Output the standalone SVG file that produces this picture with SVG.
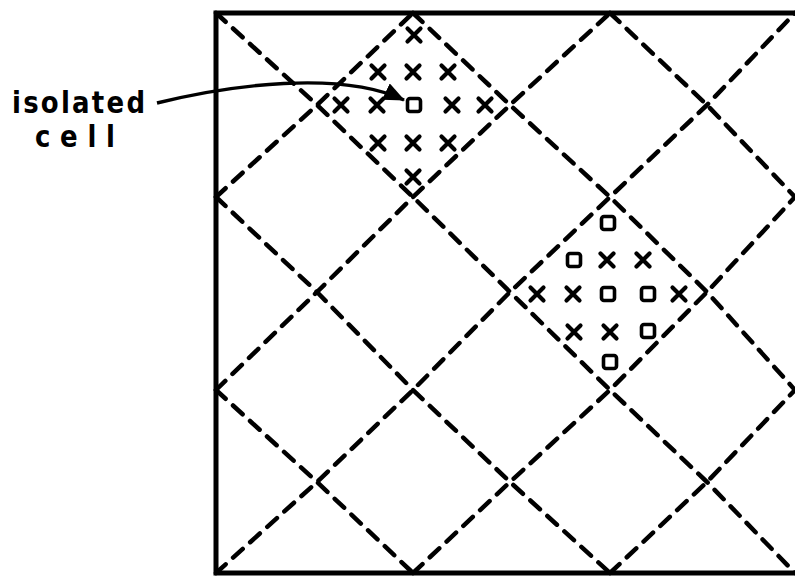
<svg xmlns="http://www.w3.org/2000/svg" xmlns:xlink="http://www.w3.org/1999/xlink" width="795" height="577" viewBox="0 0 795 577">
<style>
.grid{fill:none;stroke:#000;stroke-width:4.5;stroke-dasharray:13 10;stroke-linecap:round;stroke-linejoin:round}
.border{fill:none;stroke:#000;stroke-width:5;stroke-linecap:square}
.x{fill:none;stroke:#000;stroke-width:4.2;stroke-linecap:round}
.sq{fill:none;stroke:#000;stroke-width:3.6}
.lbl{font-family:"DejaVu Sans",sans-serif;font-weight:bold;font-size:26px;fill:#000}
.arrow{fill:none;stroke:#000;stroke-width:3.4}
</style>
<defs>
<path id="xm" class="x" d="M-6.5,-6.5L6.5,6.5M6.5,-6.5L-6.5,6.5"/>
<rect id="sm" class="sq" x="-6.5" y="-6.5" width="13" height="13" rx="2.5"/>
<marker id="ah" markerUnits="userSpaceOnUse" markerWidth="24" markerHeight="20" refX="20" refY="9" orient="auto">
<path d="M0,0L21,9L0,18Z" fill="#000"/>
</marker>
</defs>
<g id="frame">
<path class="border" d="M795,13H216V573H795"/>
</g>
<g id="connectors">
<path class="grid" d="M216,390L317,482L413,573"/>
<path class="grid" d="M216,197L317,292L413,390L510,482L610,573"/>
<path class="grid" d="M216,13L317,105L413,197L510,292L610,390L707,482L795,573"/>
<path class="grid" d="M413,13L510,105L610,197L707,292L795,390"/>
<path class="grid" d="M610,13L707,105L795,197"/>
<path class="grid" d="M216,197L317,105L413,13"/>
<path class="grid" d="M216,390L317,292L413,197L510,105L610,13"/>
<path class="grid" d="M216,573L317,482L413,390L510,292L610,197L707,105L795,13"/>
<path class="grid" d="M413,573L510,482L610,390L707,292L795,197"/>
<path class="grid" d="M610,573L707,482L795,390"/>
<path class="arrow" d="M157,103C230,85 340,70 404,100" marker-end="url(#ah)"/>
</g>
<g id="cluster1">
<use xlink:href="#xm" x="414" y="35"/>
<use xlink:href="#xm" x="378" y="72"/>
<use xlink:href="#xm" x="413" y="72"/>
<use xlink:href="#xm" x="448" y="72"/>
<use xlink:href="#xm" x="341" y="105"/>
<use xlink:href="#xm" x="377" y="105"/>
<use xlink:href="#sm" x="414" y="105"/>
<use xlink:href="#xm" x="452" y="105"/>
<use xlink:href="#xm" x="485" y="105"/>
<use xlink:href="#xm" x="378" y="143"/>
<use xlink:href="#xm" x="413" y="143"/>
<use xlink:href="#xm" x="448" y="143"/>
<use xlink:href="#xm" x="413" y="177"/>
</g>
<g id="cluster2">
<use xlink:href="#sm" x="608" y="223"/>
<use xlink:href="#sm" x="574" y="260"/>
<use xlink:href="#xm" x="607" y="260"/>
<use xlink:href="#xm" x="643" y="260"/>
<use xlink:href="#xm" x="537" y="294"/>
<use xlink:href="#xm" x="573" y="294"/>
<use xlink:href="#sm" x="608" y="294"/>
<use xlink:href="#sm" x="648" y="294"/>
<use xlink:href="#xm" x="679" y="294"/>
<use xlink:href="#xm" x="574" y="332"/>
<use xlink:href="#xm" x="610" y="332"/>
<use xlink:href="#sm" x="648" y="331"/>
<use xlink:href="#sm" x="610" y="362"/>
</g>
<g id="label">
<text class="lbl" transform="translate(12,113) scale(1,1.15)" textLength="133" lengthAdjust="spacing">isolated</text>
<text class="lbl" transform="translate(35,147) scale(1,1.15)" textLength="80" lengthAdjust="spacing">cell</text>
</g>
</svg>
